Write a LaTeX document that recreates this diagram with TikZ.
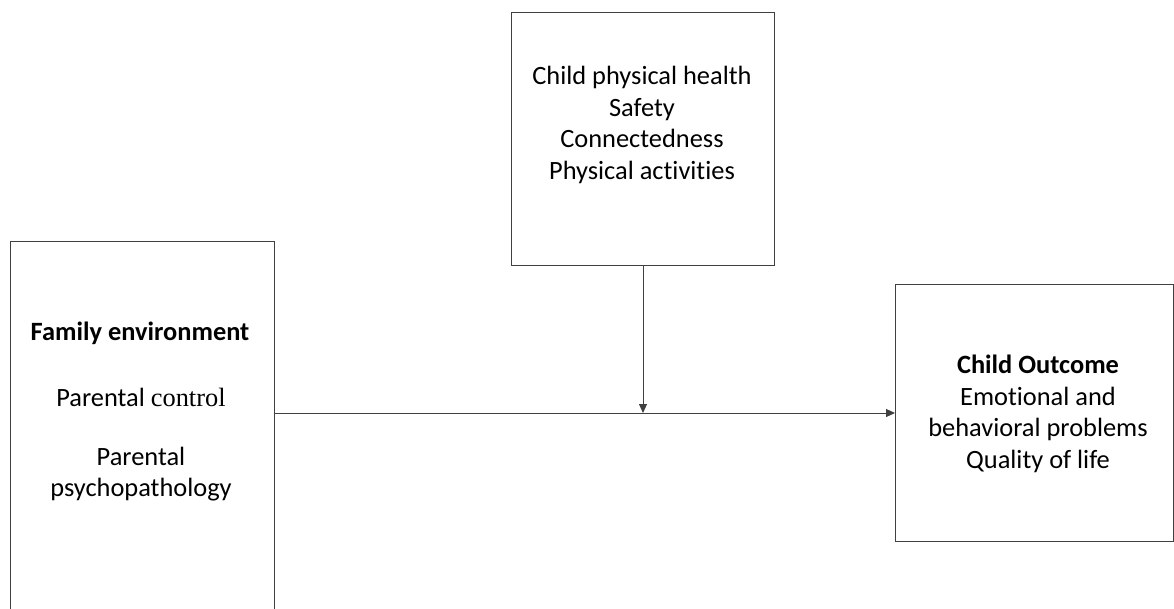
\documentclass[tikz,border=0pt]{standalone}
\usepackage{fontspec}
\setmainfont[Ligatures=NoCommon]{Carlito}
\newfontfamily\timesf{Liberation Serif}
\usetikzlibrary{arrows.meta}
\definecolor{linegray}{HTML}{404040}
\begin{document}
\begin{tikzpicture}[x=1pt,y=1pt,
  box/.style={draw=linegray, line width=1pt, inner sep=0pt, anchor=north west},
  txt/.style={align=center, inner sep=0pt, font=\fontsize{26.4}{31.5}\selectfont},
  conn/.style={draw=linegray, line width=1pt, -{Triangle[length=9pt,width=8pt]}}]
\useasboundingbox (0,0) rectangle (1174,-609);
\clip (0,0) rectangle (1174,-609);
% boxes
\node[box, minimum width=263pt, minimum height=253pt] (top) at (511,-12) {};
\node[box, minimum width=264pt, minimum height=390pt] (left) at (9.5,-241) {};
\node[box, minimum width=278pt, minimum height=257pt] (right) at (895,-284) {};
% texts
\node[txt] (toptext) at (642,-125) {Child physical health\\Safety\\Connectedness\\Physical activities};
\node[txt, font=\fontsize{26.4}{31.5}\selectfont\bfseries] (fam) at (140,-333) {Family environment};
\node[txt] (pc) at (141,-397) {Parental {\timesf control}};
\node[txt] (pp) at (141,-474) {Parental\\psychopathology};
\node[txt] (outtext) at (1038,-414) {\textbf{Child Outcome}\\Emotional and\\behavioral problems\\Quality of life};
% connectors
\coordinate (mid) at (643,-413);
\draw[conn] (left.east |- mid) -- (right.west |- mid);
\draw[conn] (top.south -| mid) -- (mid);
\end{tikzpicture}
\end{document}
